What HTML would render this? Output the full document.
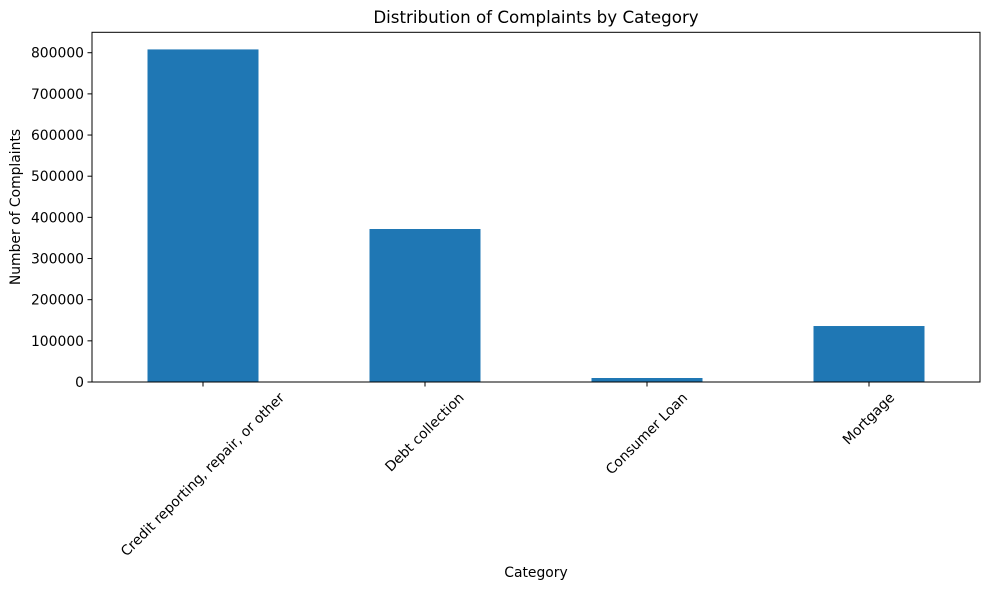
<!DOCTYPE html>
<html><head><meta charset="utf-8"><style>
body{margin:0;background:#fff;}
svg{display:block;font-family:"DejaVu Sans","Liberation Sans",sans-serif;}
</style></head><body>
<svg id="chart" width="989" height="590" viewBox="0 0 989 590">
<rect width="989" height="590" fill="#fff"/>
<text x="536" y="23" font-size="16.7" text-anchor="middle" fill="#000">Distribution of Complaints by Category</text>
<g id="bars"></g>
<g id="yaxis"></g>
<g id="xaxis"></g>
<rect x="92" y="32.3" width="888" height="349.7" fill="none" stroke="#000" stroke-width="1"/>
<text x="20" y="207" font-size="13.9" text-anchor="middle" transform="rotate(-90 20 207)">Number of Complaints</text>
<text x="536" y="577" font-size="13.9" text-anchor="middle">Category</text>
</svg>
<script>
const categories = ["Credit reporting, repair, or other","Debt collection","Consumer Loan","Mortgage"];
const complaints = [808000, 371700, 9700, 136000];
const yTicks = [0,100000,200000,300000,400000,500000,600000,700000,800000];
const yTickLabels = ["0","100000","200000","300000","400000","500000","600000","700000","800000"];
const NS="http://www.w3.org/2000/svg";
const L=92,R=980,B=382,T=32.3,YMAX=849600;
const y=v=>B-(v/YMAX)*(B-T);
const step=(R-L)/categories.length;
const x=i=>L+step*(i+0.5);
const bars=document.getElementById('bars'),ya=document.getElementById('yaxis'),xa=document.getElementById('xaxis');
complaints.forEach((v,i)=>{
 const r=document.createElementNS(NS,'rect');
 r.setAttribute('x',x(i)-step/4);r.setAttribute('width',step/2);
 r.setAttribute('y',y(v));r.setAttribute('height',B-y(v));r.setAttribute('fill','#1f77b4');
 
 
 bars.appendChild(r);
});
yTicks.forEach((v,i)=>{
 const l=document.createElementNS(NS,'line');
 l.setAttribute('x1',L-4.5);l.setAttribute('x2',L);l.setAttribute('y1',y(v));l.setAttribute('y2',y(v));l.setAttribute('stroke','#000');
 
 
 ya.appendChild(l);
 const t=document.createElementNS(NS,'text');
 t.setAttribute('x',L-8);t.setAttribute('y',y(v)+5);t.setAttribute('font-size','13.9');t.setAttribute('text-anchor','end');
 t.textContent=yTickLabels[i];
 
 
 ya.appendChild(t);
});
categories.forEach((c,i)=>{
 const cx=x(i);
 const l=document.createElementNS(NS,'line');
 l.setAttribute('x1',cx);l.setAttribute('x2',cx);l.setAttribute('y1',B);l.setAttribute('y2',B+4.5);l.setAttribute('stroke','#000');
 
 
 xa.appendChild(l);
 const t=document.createElementNS(NS,'text');
 t.setAttribute('font-size','13.9');t.setAttribute('text-anchor','middle');t.setAttribute('dominant-baseline','central');
 t.textContent=c;
 
 
 xa.appendChild(t);
 const w=t.getComputedTextLength();
 const cy=B+8+(w+16)*0.7071/2;
 t.setAttribute('x',cx);t.setAttribute('y',cy);
 t.setAttribute('transform','rotate(-45 '+cx+' '+cy+')');
});
</script>
</body></html>
